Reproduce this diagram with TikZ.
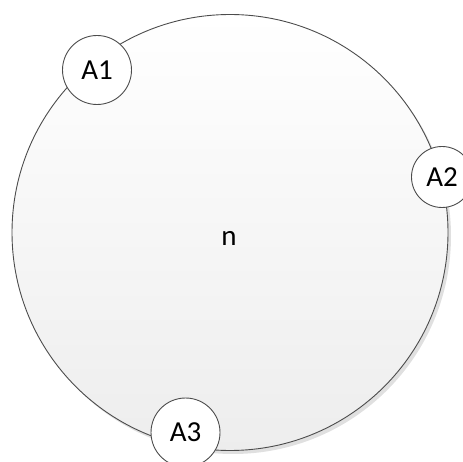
\documentclass[tikz,border=0pt]{standalone}
\usepackage{fontspec}
\setmainfont{Carlito}
\begin{document}
\begin{tikzpicture}[x=1pt,y=-1pt,
  bigc/.style={circle,draw=black!70,line width=0.9pt,top color=white,bottom color=black!7,minimum size=436pt,inner sep=0pt},
  smallc/.style={circle,draw=black!70,line width=0.9pt,fill=white,minimum size=69pt,inner sep=0pt,font=\fontsize{29}{34}\selectfont},
  lbl/.style={font=\fontsize{29}{34}\selectfont}]
\useasboundingbox (0,0) rectangle (463,462);
\fill[black!12] (233,236) circle (218);
\node[bigc] (n) at (230,232.5) {};
\node[lbl] (nl) at (229,238) {n};
\node[smallc] (a1) at (97,70) {A1};
\node[smallc,minimum size=61pt] (a2) at (442,177) {A2};
\node[smallc] (a3) at (185.5,432.5) {A3};
\end{tikzpicture}
\end{document}
